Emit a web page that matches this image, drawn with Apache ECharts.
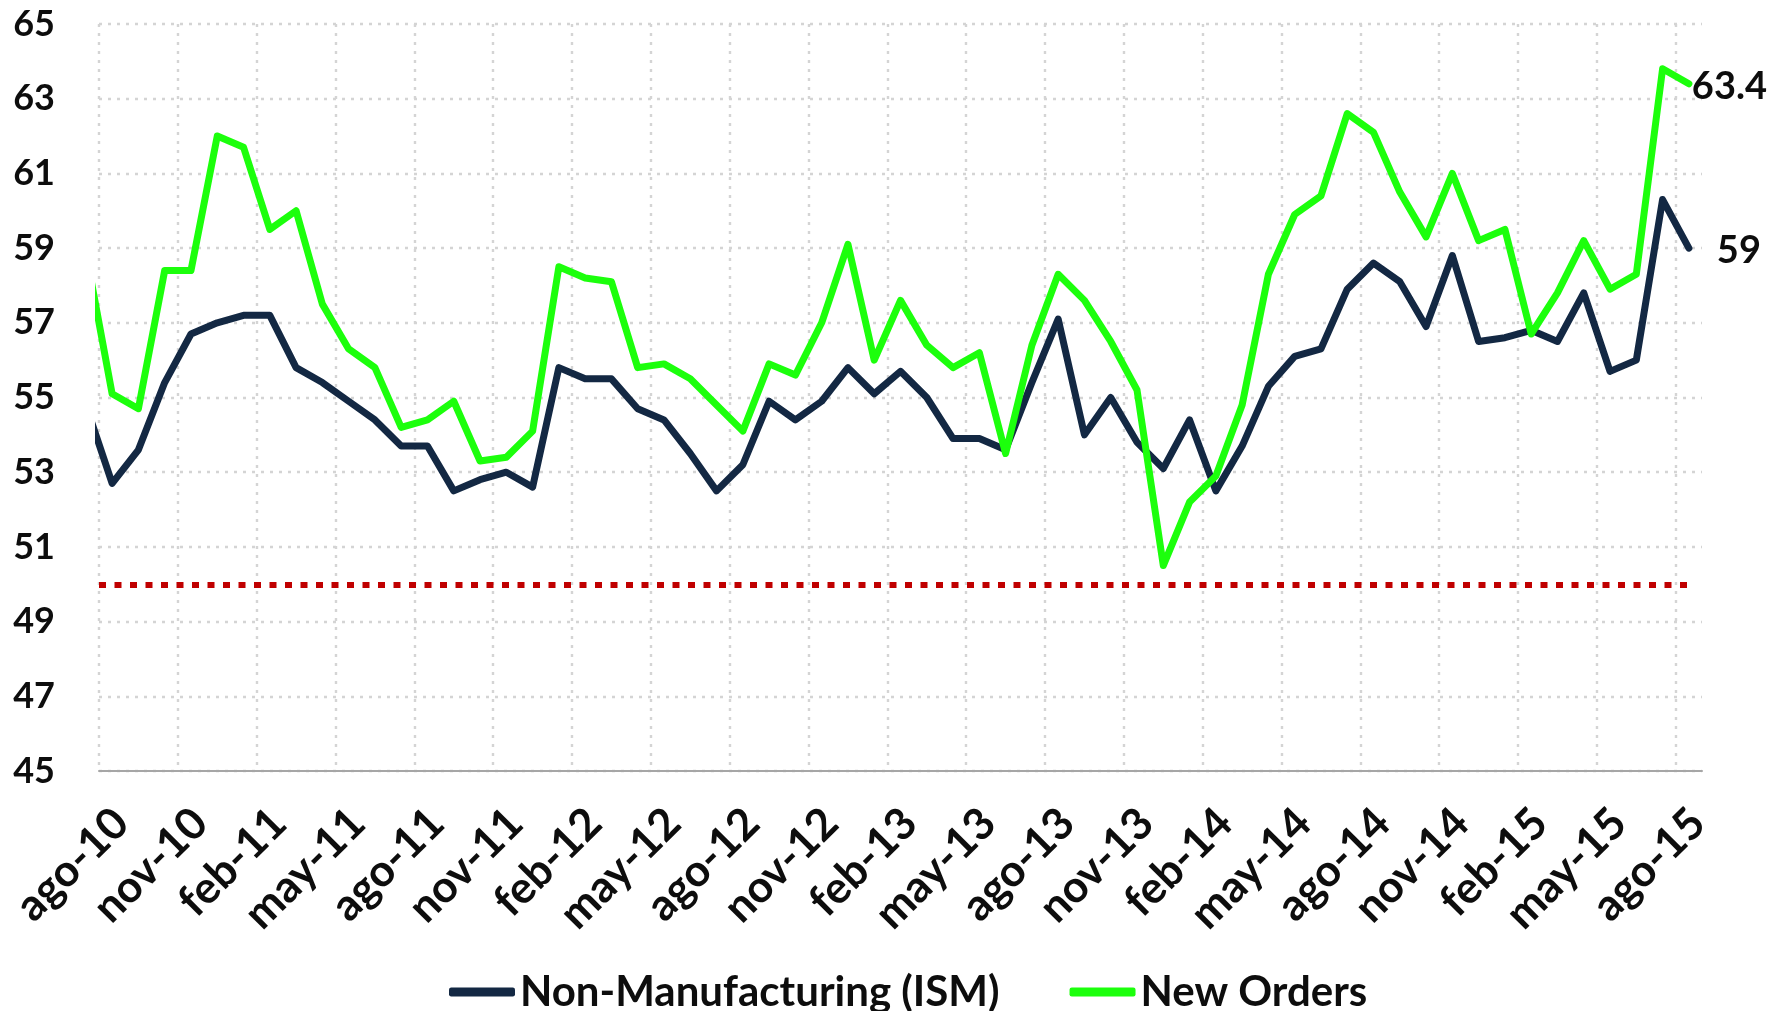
<!DOCTYPE html>
<html>
<head>
<meta charset="utf-8">
<script src="https://cdn.jsdelivr.net/npm/echarts@6/dist/echarts.min.js"></script>
<style>
    html, body { margin: 0; padding: 0; background: #fff; }
    #chart { width: 1776px; height: 1011px; }
</style>
</head>
<body>
<div id="chart"></div>
<script>
// meses jul-10 .. ago-15 (jul-10 only shows as the clipped stub at the left edge)
const monthNames = ['ene', 'feb', 'mar', 'abr', 'may', 'jun', 'jul', 'ago', 'sep', 'oct', 'nov', 'dic'];
const months = [];
for (let y = 10; y <= 15; y++) {
    monthNames.forEach(m => months.push(m + '-' + y));
}
const categories = months.slice(6, 68);

const nonManufacturing = [54.8,
    52.7, 53.6, 55.4, 56.7, 57.0, 57.2, 57.2, 55.8, 55.4, 54.9,
    54.4, 53.7, 53.7, 52.5, 52.8, 53.0, 52.6, 55.8, 55.5, 55.5,
    54.7, 54.4, 53.5, 52.5, 53.2, 54.9, 54.4, 54.9, 55.8, 55.1,
    55.7, 55.0, 53.9, 53.9, 53.6, 55.4, 57.1, 54.0, 55.0, 53.8,
    53.1, 54.4, 52.5, 53.7, 55.3, 56.1, 56.3, 57.9, 58.6, 58.1,
    56.9, 58.8, 56.5, 56.6, 56.8, 56.5, 57.8, 55.7, 56.0, 60.3,
    59.0];

const newOrders = [58.9,
    55.1, 54.7, 58.4, 58.4, 62.0, 61.7, 59.5, 60.0, 57.5, 56.3,
    55.8, 54.2, 54.4, 54.9, 53.3, 53.4, 54.1, 58.5, 58.2, 58.1,
    55.8, 55.9, 55.5, 54.8, 54.1, 55.9, 55.6, 57.0, 59.1, 56.0,
    57.6, 56.4, 55.8, 56.2, 53.5, 56.4, 58.3, 57.6, 56.5, 55.2,
    50.5, 52.2, 52.9, 54.8, 58.3, 59.9, 60.4, 62.6, 62.1, 60.5,
    59.3, 61.0, 59.2, 59.5, 56.7, 57.8, 59.2, 57.9, 58.3, 63.8,
    63.4];

const threshold = 50;
const yTicks = { min: 45, max: 65, step: 2 };

const FONT = 'Lato';
const gridColor = '#d4d4d4';

// point i sits at x = i - 1 on the hidden value axis (jul-10 -> -1)
function toPoints(values) {
    return values.map((v, i) => [i - 1, v]);
}

function endLabel(distance) {
    return {
        show: true,
        distance: distance,
        offset: [0, 3],
        formatter: p => String(p.value[1]),
        color: '#0d0d0d',
        fontFamily: FONT,
        fontWeight: 'bold',
        fontSize: 38
    };
}

const chart = echarts.init(document.getElementById('chart'));
const shown = categories.slice(1);

chart.setOption({
    animation: false,
    backgroundColor: '#ffffff',
    grid: { left: 99, right: 74, top: 24, bottom: 240, containLabel: false },
    legend: {
        left: 444,
        top: 966,
        itemWidth: 66,
        itemHeight: 9,
        itemGap: 70,
        icon: 'roundRect',
        textStyle: { fontFamily: FONT, fontWeight: 'bold', fontSize: 42, color: '#0d0d0d' },
        data: ['Non-Manufacturing (ISM)', 'New Orders']
    },
    xAxis: [{
        type: 'category',
        data: shown,
        boundaryGap: true,
        axisLine: { lineStyle: { color: '#a6a6a6', width: 2 } },
        axisTick: { show: false },
        axisLabel: {
            interval: 2,
            rotate: 45,
            margin: 23,
            align: 'right',
            verticalAlign: 'top',
            padding: [0, 9, 0, 0],
            color: '#0d0d0d',
            fontFamily: FONT,
            fontWeight: 'bold',
            fontSize: 44
        },
        splitLine: {
            show: true,
            interval: 2,
            showMaxLine: false,
            lineStyle: { color: gridColor, width: 2.4, type: [3, 6] }
        }
    }, {
        type: 'value',
        show: false,
        min: -0.5,
        max: shown.length - 0.5
    }],
    yAxis: {
        type: 'value',
        min: yTicks.min,
        max: yTicks.max,
        interval: yTicks.step,
        axisLine: { show: false },
        axisTick: { show: false },
        axisLabel: {
            margin: 44,
            color: '#0d0d0d',
            fontFamily: FONT,
            fontWeight: 'bold',
            fontSize: 36
        },
        splitLine: { lineStyle: { color: gridColor, width: 2.4, type: [3, 6] } }
    },
    series: [{
        name: 'Non-Manufacturing (ISM)',
        type: 'line',
        xAxisIndex: 1,
        data: toPoints(nonManufacturing),
        showSymbol: false,
        clip: true,
        color: '#132843',
        lineStyle: { color: '#132843', width: 7, cap: 'round', join: 'round' },
        endLabel: endLabel(28),
        markLine: {
            silent: true,
            symbol: 'none',
            label: { show: false },
            lineStyle: { color: '#c00000', width: 6, type: [7, 8.5] },
            data: [[{ coord: [-0.5, threshold] }, { coord: [shown.length - 1, threshold] }]]
        }
    }, {
        name: 'New Orders',
        type: 'line',
        xAxisIndex: 1,
        data: toPoints(newOrders),
        showSymbol: false,
        clip: true,
        color: '#1cff0c',
        lineStyle: { color: '#1cff0c', width: 7, cap: 'round', join: 'round' },
        endLabel: endLabel(3)
    }]
});
</script>
</body>
</html>
